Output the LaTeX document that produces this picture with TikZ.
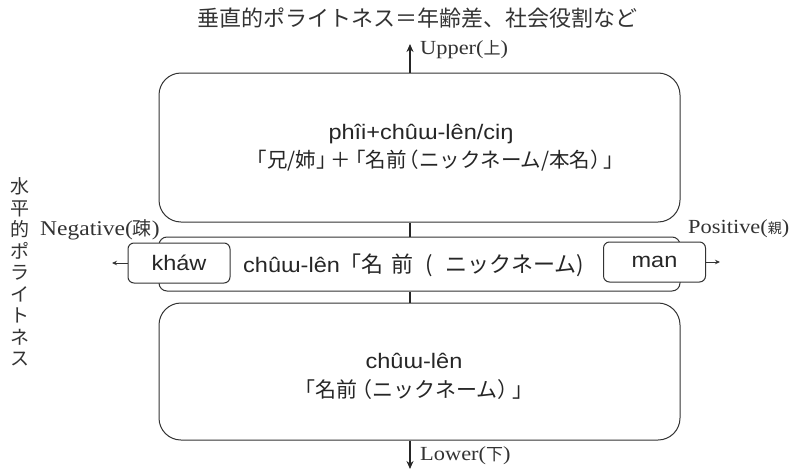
\documentclass[tikz,border=0pt]{standalone}
\usepackage{fontspec}
\setmainfont{Liberation Serif}[FakeStretch=1.12]
\newfontfamily\jp{Noto Sans CJK JP}
\newfontfamily\lat{Liberation Sans}[FakeStretch=1.12]
\usetikzlibrary{arrows.meta}
\definecolor{ink}{HTML}{333333}
\tikzset{
  bigbox/.style={draw=ink, line width=1pt, rounded corners=22pt, fill=white, minimum width=521pt, inner sep=0pt},
  midbox/.style={draw=ink, line width=1pt, rounded corners=8pt, fill=white, minimum width=521pt, minimum height=54pt, inner sep=0pt},
  tagbox/.style={draw=ink, line width=1pt, rounded corners=6pt, fill=white, minimum width=102pt, minimum height=40pt, inner sep=0pt, font=\lat\fontsize{21}{24}\selectfont, text=black!85},
  axis/.style={draw=black!85, line width=1.8pt},
  side/.style={draw=ink, line width=1pt},
  lbl/.style={text=ink, inner sep=0pt},
  boxtxt/.style={text=black!85, inner sep=0pt},
}
\begin{document}
\begin{tikzpicture}[x=1pt,y=-1pt]
\useasboundingbox (0,0) rectangle (792,471);
% boxes
\node[bigbox, minimum height=149pt] (top) at (419.5,147.5) {};
\node[midbox] (mid) at (419.5,264) {};
\node[bigbox, minimum height=137pt] (bot) at (419.5,371.5) {};
\node[tagbox] (khaw) at (179,263) {kháw};
\node[tagbox] (man) at (654.5,262) {man};
% axis points
\coordinate (up) at (410,44);
\coordinate (down) at (410,469);
\coordinate (left) at (112,263);
\coordinate (right) at (720,262);
% connectors
\draw[axis, -{Stealth[length=8pt,width=7pt]}] (top.north -| up) -- (up);
\draw[axis] (top.south -| up) -- (mid.north -| up);
\draw[axis] (mid.south -| up) -- (bot.north -| up);
\draw[axis, -{Stealth[length=8pt,width=7pt]}] (bot.south -| down) -- (down);
\draw[side, -{Stealth[length=5pt,width=4.5pt]}] (khaw.west) -- (left);
\draw[side, -{Stealth[length=5pt,width=4.5pt]}] (man.east) -- (right);
% texts
\node[lbl, font=\jp\fontsize{22}{24}\selectfont] (title) at (417,18) {垂直的ポライトネス＝年齢差、社会役割など};
\node[lbl, anchor=west, font=\fontsize{20}{22}\selectfont] (upl) at (420,50) {Upper({\jp\fontsize{17}{20}\selectfont 上})};
\node[lbl, anchor=west, font=\fontsize{20}{22}\selectfont] (lowl) at (420,456) {Lower({\jp\fontsize{17}{20}\selectfont 下})};
\node[lbl, anchor=west, font=\fontsize{21}{22}\selectfont] (neg) at (40,230) {Negative({\jp\fontsize{19}{20}\selectfont 疎})};
\node[lbl, anchor=west, font=\fontsize{20}{22}\selectfont] (pos) at (688,229) {Positive({\jp\fontsize{14}{18}\selectfont 親})};
\node[lbl, font=\jp\fontsize{19}{21.5}\selectfont, align=center] (vert) at (20,272) {水\\平\\的\\ポ\\ラ\\イ\\ト\\ネ\\ス};
\node[boxtxt, font=\lat\fontsize{21}{24}\selectfont] (t1) at (421,134) {phîi+chûɯ-lên/ciŋ};
\node[boxtxt, font=\jp\fontsize{20.5}{24}\selectfont] (t2) at (435,161) {「兄/姉」\kern-6pt＋\kern-6pt「名前\kern-8pt（ニックネーム/本名）\kern-8pt」};
\node[boxtxt, font=\lat\fontsize{21}{24}\selectfont, anchor=west] (m1) at (243,265) {chûɯ-lên{\jp\fontsize{22}{24}\selectfont 「名\hspace{8pt}前\hspace{12pt}(\hspace{12pt}ニックネーム)}};
\node[boxtxt, font=\lat\fontsize{21}{24}\selectfont] (b1) at (414,361) {chûɯ-lên};
\node[boxtxt, font=\jp\fontsize{21}{24}\selectfont] (b2) at (414,390) {「名前\kern-6pt（ニックネーム）\kern-6pt」};
\end{tikzpicture}
\end{document}
